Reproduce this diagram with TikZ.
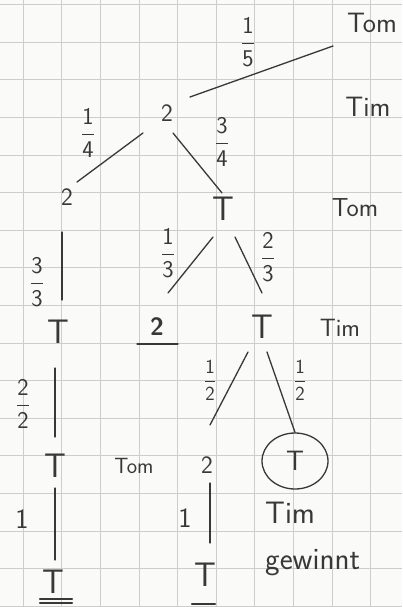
\RequirePackage{fix-cm}
\documentclass[tikz,border=0pt]{standalone}
\usepackage{amsmath}
\usepackage{tikz}
\usetikzlibrary{calc, shapes.geometric}
\definecolor{inkGray}{HTML}{383838}
\definecolor{gridGray}{HTML}{CDCDCD}
\definecolor{paperWhite}{HTML}{FAFAF8}

\begin{document}
\begin{tikzpicture}[x=1pt, y=-1pt, text=inkGray,
    who/.style={font=\fontsize{28}{30}\selectfont\sffamily, inner sep=2pt},
    whoSmall/.style={font=\fontsize{22}{24}\selectfont\sffamily, inner sep=2pt},
    tnode/.style={font=\fontsize{34}{36}\selectfont\sffamily, inner sep=2pt},
    twonode/.style={font=\fontsize{25}{27}\selectfont\sffamily, inner sep=2pt},
    prob/.style={font=\fontsize{24}{26}\selectfont\sffamily, inner sep=1pt},
    probSmall/.style={font=\fontsize{20}{22}\selectfont\sffamily, inner sep=1pt},
    one/.style={font=\fontsize{28}{30}\selectfont\sffamily, inner sep=1pt},
    branch/.style={draw=inkGray, line width=1.3pt, line cap=round}]
  % Karopapier
  \useasboundingbox (0,0) rectangle (402,607);
  \fill[paperWhite] (0,0) rectangle (402,607);
  \foreach \gx in {0,...,9}
    \draw[gridGray, line width=0.6pt] ({23+38.6*\gx},0) -- ++(0,607);
  \foreach \gy in {0,...,16}
    \draw[gridGray, line width=0.6pt] (0,{4.4+37.6*\gy}) -- ++(402,0);
  % Wer zieht
  \node[who] (tomA) at (372,23) {Tom};
  \node[who] (timA) at (368,107) {Tim};
  \node[who, font=\fontsize{26}{28}\selectfont\sffamily] (tomB) at (355,208) {Tom};
  \node[who, font=\fontsize{25}{27}\selectfont\sffamily] (timB) at (340,328) {Tim};
  \node[whoSmall] (tomC) at (134,466) {Tom};
  \node[who, font=\fontsize{31}{46}\selectfont\sffamily, anchor=north west, align=left] (win) at (263,500) {Tim\\gewinnt};
  % Baum
  \node[twonode] (root) at (167,113) {2};
  \node[twonode] (a1) at (67,197) {2};
  \node[tnode] (a2) at (58,332) {T};
  \node[tnode] (a3) at (55,466) {T};
  \node[tnode] (a4) at (53,582) {T};
  \node[tnode] (b1) at (223,209) {T};
  \node[twonode, font=\fontsize{25}{27}\selectfont\sffamily\bfseries] (b2) at (157,327) {2};
  \node[tnode] (c2) at (262,327) {T};
  \node[twonode] (c3) at (207,465) {2};
  \node[tnode, font=\fontsize{28}{30}\selectfont\sffamily, draw=inkGray, line width=1.3pt,
        ellipse, minimum width=66pt, minimum height=56pt] (c4) at (295,461) {T};
  \node[tnode] (c5) at (205,575) {T};
  % Wahrscheinlichkeiten
  \node[prob] (p1) at (248,42) {$\dfrac{\text{1}}{\text{5}}$};
  \node[prob] (p2) at (88,133) {$\dfrac{\text{1}}{\text{4}}$};
  \node[prob] (p3) at (222,142) {$\dfrac{\text{3}}{\text{4}}$};
  \node[prob] (p4) at (37,282) {$\dfrac{\text{3}}{\text{3}}$};
  \node[prob] (p5) at (168,253) {$\dfrac{\text{1}}{\text{3}}$};
  \node[prob] (p6) at (268,257) {$\dfrac{\text{2}}{\text{3}}$};
  \node[prob] (p7) at (23,404) {$\dfrac{\text{2}}{\text{2}}$};
  \node[probSmall] (p8) at (210,380) {$\dfrac{\text{1}}{\text{2}}$};
  \node[probSmall] (p9) at (300,380) {$\dfrac{\text{1}}{\text{2}}$};
  \node[one] (p10) at (22,519) {1};
  \node[one] (p11) at (185,518) {1};
  % Aeste
  \draw[branch] ($(root)+(23,-16)$) -- ($(tomA)+(-39,23)$);
  \draw[branch] ($(root)+(-24,20)$) -- ($(a1)+(10,-15)$);
  \draw[branch] ($(root)+(6,20)$) -- ($(b1)+(-1,-16)$);
  \draw[branch] ($(a1)+(-5,35)$) -- ($(a2)+(4,-32)$);
  \draw[branch] ($(b1)+(-10,28)$) -- ($(b2)+(11,-34)$);
  \draw[branch] ($(b1)+(12,28)$) -- ($(c2)+(0,-34)$);
  \draw[branch] ($(a2)+(-3,36)$) -- ($(a3)+(0,-29)$);
  \draw[branch] ($(c2)+(-14,25)$) -- ($(c3)+(3,-40)$);
  \draw[branch] ($(c2)+(5,25)$) -- (c4.north);
  \draw[branch] ($(a3)+(0,22)$) -- ($(a4)+(2,-22)$);
  \draw[branch] ($(c3)+(3,18)$) -- ($(c5)+(5,-32)$);
  % Unterstreichungen
  \draw[branch] ($(b2)+(-20,17)$) -- ($(b2)+(21,17)$);
  \draw[branch, line width=2.2pt] ($(a4)+(-13,17)$) -- ($(a4)+(19,17)$);
  \draw[branch, line width=2.2pt] ($(a4)+(-13,21)$) -- ($(a4)+(19,21)$);
  \draw[branch, line width=2.2pt] ($(c5)+(-13,29)$) -- ($(c5)+(10,29)$);
\end{tikzpicture}
\end{document}
